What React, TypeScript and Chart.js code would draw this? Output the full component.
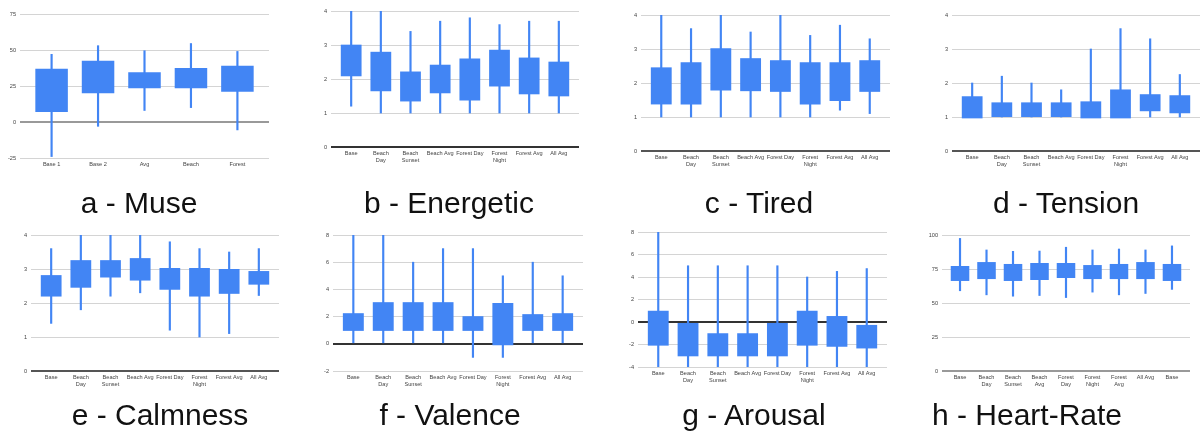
import React, { useEffect, useRef } from "react";
import { Chart, registerables } from "chart.js";
Chart.register(...registerables);

// ---------- data ----------
const sceneLabels = ["Base", "Beach\nDay", "Beach\nSunset", "Beach Avg", "Forest Day", "Forest\nNight", "Forest Avg", "All Avg"];

const museLabels = ["Base 1", "Base 2", "Avg", "Beach", "Forest"];
const museBoxLow = [7, 20, 23.5, 23.5, 21];
const museBoxHigh = [37, 42.5, 34.5, 37.5, 39];
const museMin = [-24, -3, 8, 10, -5.5];
const museMax = [47, 53, 49.5, 54.5, 49];

const energeticBoxLow = [2.08, 1.64, 1.34, 1.58, 1.37, 1.78, 1.55, 1.49];
const energeticBoxHigh = [3.01, 2.8, 2.22, 2.42, 2.6, 2.86, 2.63, 2.51];
const energeticMin = [1.2, 1, 1, 1, 1, 1, 1, 1];
const energeticMax = [4, 4, 3.4, 3.7, 3.8, 3.6, 3.7, 3.7];

const tiredBoxLow = [1.37, 1.37, 1.78, 1.76, 1.74, 1.37, 1.47, 1.74];
const tiredBoxHigh = [2.46, 2.61, 3.02, 2.73, 2.67, 2.61, 2.61, 2.67];
const tiredMin = [1, 1, 1, 1, 1, 1, 1.2, 1.1];
const tiredMax = [4, 3.6, 4, 3.5, 4, 3.4, 3.7, 3.3];

const tensionBoxLow = [0.96, 1, 1, 1, 0.96, 0.96, 1.17, 1.11];
const tensionBoxHigh = [1.61, 1.43, 1.43, 1.43, 1.46, 1.81, 1.67, 1.64];
const tensionMin = [1, 1, 1, 1, 1, 1, 1, 1];
const tensionMax = [2, 2.2, 2, 1.8, 3, 3.6, 3.3, 2.25];

const calmnessBoxLow = [2.19, 2.45, 2.75, 2.66, 2.39, 2.19, 2.27, 2.54];
const calmnessBoxHigh = [2.82, 3.26, 3.26, 3.32, 3.03, 3.03, 3.0, 2.94];
const calmnessMin = [1.4, 1.8, 2.2, 2.3, 1.2, 1, 1.1, 2.22];
const calmnessMax = [3.6, 4, 4, 4, 3.8, 3.6, 3.5, 3.6];

const valenceBoxLow = [0.95, 0.95, 0.95, 0.95, 0.95, -0.1, 0.95, 0.95];
const valenceBoxHigh = [2.25, 3.06, 3.06, 3.06, 2.03, 3, 2.18, 2.25];
const valenceMin = [0, 0, 0, 0, -1, -1, 0, 0];
const valenceMax = [8, 8, 6, 7, 7, 5, 6, 5];

const arousalBoxLow = [-2.1, -3.05, -3.05, -3.05, -3.05, -2.1, -2.2, -2.35];
const arousalBoxHigh = [1, 0, -1, -1, 0, 1, 0.53, -0.26];
const arousalMin = [-4, -4, -4, -4, -4, -4, -4, -4];
const arousalMax = [8, 5, 5, 5, 5, 4, 4.5, 4.75];

const heartLabels = ["Base", "Beach\nDay", "Beach\nSunset", "Beach\nAvg", "Forest\nDay", "Forest\nNight", "Forest\nAvg", "All Avg", "Base"];
const heartBoxLow = [66.2, 67.6, 66.2, 66.9, 68.4, 67.6, 67.6, 67.6, 66.2];
const heartBoxHigh = [77.2, 80.1, 78.7, 79.4, 79.4, 77.9, 78.7, 80.1, 78.7];
const heartMin = [59, 56, 55, 55.5, 54, 58, 56, 57, 60];
const heartMax = [97.5, 89, 88, 88.2, 91, 89, 89.7, 89, 92];

// ---------- panels ----------
type Panel = {
  caption: string;
  labels: string[];
  boxLow: number[];
  boxHigh: number[];
  min: number[];
  max: number[];
  yMin: number;
  yMax: number;
  yStep: number;
  area: { l: number; t: number; r: number; b: number };
  baseColor: string;
  capX: number;
  capY: number;
};

const panels: Panel[] = [
  { caption: "a - Muse", labels: museLabels, boxLow: museBoxLow, boxHigh: museBoxHigh, min: museMin, max: museMax, yMin: -25, yMax: 75, yStep: 25, area: { l: 20, t: 14, r: 269, b: 158 }, baseColor: "#999", capX: 139, capY: 188 },
  { caption: "b - Energetic", labels: sceneLabels, boxLow: energeticBoxLow, boxHigh: energeticBoxHigh, min: energeticMin, max: energeticMax, yMin: 0, yMax: 4, yStep: 1, area: { l: 331, t: 11.3, r: 579, b: 147.3 }, baseColor: "#333", capX: 449, capY: 188 },
  { caption: "c - Tired", labels: sceneLabels, boxLow: tiredBoxLow, boxHigh: tiredBoxHigh, min: tiredMin, max: tiredMax, yMin: 0, yMax: 4, yStep: 1, area: { l: 641, t: 14.7, r: 890, b: 150.7 }, baseColor: "#555", capX: 759, capY: 188 },
  { caption: "d - Tension", labels: sceneLabels, boxLow: tensionBoxLow, boxHigh: tensionBoxHigh, min: tensionMin, max: tensionMax, yMin: 0, yMax: 4, yStep: 1, area: { l: 952, t: 14.7, r: 1200, b: 150.7 }, baseColor: "#555", capX: 1066, capY: 188 },
  { caption: "e - Calmness", labels: sceneLabels, boxLow: calmnessBoxLow, boxHigh: calmnessBoxHigh, min: calmnessMin, max: calmnessMax, yMin: 0, yMax: 4, yStep: 1, area: { l: 31, t: 235, r: 279, b: 371 }, baseColor: "#555", capX: 160, capY: 400 },
  { caption: "f - Valence", labels: sceneLabels, boxLow: valenceBoxLow, boxHigh: valenceBoxHigh, min: valenceMin, max: valenceMax, yMin: -2, yMax: 8, yStep: 2, area: { l: 333, t: 235, r: 583, b: 371 }, baseColor: "#333", capX: 450, capY: 400 },
  { caption: "g - Arousal", labels: sceneLabels, boxLow: arousalBoxLow, boxHigh: arousalBoxHigh, min: arousalMin, max: arousalMax, yMin: -4, yMax: 8, yStep: 2, area: { l: 638, t: 231.7, r: 887, b: 367.3 }, baseColor: "#333", capX: 754, capY: 400 },
  { caption: "h - Heart-Rate", labels: heartLabels, boxLow: heartBoxLow, boxHigh: heartBoxHigh, min: heartMin, max: heartMax, yMin: 0, yMax: 100, yStep: 25, area: { l: 942, t: 235, r: 1190, b: 371 }, baseColor: "#999", capX: 1027, capY: 400 },
];

const BLUE = "#4285F4";
const FONT = "'Liberation Sans', Arial, sans-serif";
const PAD_L = 40;
const PAD_T = 8;
const PAD_B = 30;
const PAD_R = 2;
const EDGE = 0.68;

function BoxPanel({ p }: { p: Panel }) {
  const ref = useRef<HTMLCanvasElement>(null);
  const w = p.area.r - p.area.l + PAD_L + PAD_R;
  const h = p.area.b - p.area.t + PAD_T + PAD_B;

  useEffect(() => {
    if (!ref.current) return;
    const n = p.labels.length;
    const chart = new Chart(ref.current, {
      type: "bar",
      data: {
        datasets: [
          {
            data: p.labels.map((_, i) => ({ x: i, y: [p.boxLow[i], p.boxHigh[i]] })) as any,
            backgroundColor: BLUE,
            grouped: false,
            categoryPercentage: 1,
            barPercentage: 0.7,
            order: 0,
          } as any,
          {
            data: p.labels.map((_, i) => ({ x: i, y: [p.min[i], p.max[i]] })) as any,
            backgroundColor: BLUE,
            grouped: false,
            categoryPercentage: 1,
            barPercentage: 1,
            maxBarThickness: 1.5,
            order: 1,
          } as any,
        ],
      },
      options: {
        responsive: false,
        animation: false,
        layout: { padding: { top: PAD_T, right: PAD_R, left: 0, bottom: 0 } },
        plugins: { legend: { display: false }, tooltip: { enabled: false } },
        scales: {
          x: {
            type: "linear",
            min: -EDGE,
            max: n - 1 + EDGE,
            offset: false,
            grid: { display: false, drawTicks: false, offset: false },
            border: { display: false },
            afterBuildTicks: (s: any) => {
              s.ticks = p.labels.map((_, i) => ({ value: i }));
            },
            afterFit: (s: any) => {
              s.height = PAD_B;
            },
            ticks: {
              autoSkip: false,
              maxRotation: 0,
              minRotation: 0,
              padding: 3,
              color: "#444",
              font: { family: FONT, size: 5.6, lineHeight: 1.2 },
              callback: (_v: any, i: number) => p.labels[i].split("\n"),
            },
          },
          y: {
            min: p.yMin,
            max: p.yMax,
            afterFit: (s: any) => {
              s.width = PAD_L;
            },
            ticks: {
              stepSize: p.yStep,
              padding: 4,
              color: "#444",
              font: { family: FONT, size: 5.6 },
            },
            grid: {
              drawTicks: false,
              color: (ctx: any) => (ctx.tick && ctx.tick.value === 0 ? p.baseColor : "#d4d4d4"),
              lineWidth: (ctx: any) => (ctx.tick && ctx.tick.value === 0 ? 2 : 1),
            },
            border: { display: false },
          },
        },
      } as any,
    });
    return () => chart.destroy();
  }, [p]);

  return (
    <canvas
      ref={ref}
      width={w}
      height={h}
      style={{ position: "absolute", left: p.area.l - PAD_L, top: p.area.t - PAD_T, width: w, height: h }}
    />
  );
}

export default function App() {
  return (
    <div
      style={{
        position: "absolute",
        left: 0,
        top: 0,
        width: 1200,
        height: 439,
        overflow: "hidden",
        background: "#fff",
      }}
    >
      {panels.map((p, i) => (
        <BoxPanel key={"c" + i} p={p} />
      ))}
      {panels.map((p, i) => (
        <div
          key={"t" + i}
          style={{
            position: "absolute",
            left: p.capX - 150,
            top: p.capY,
            width: 300,
            height: 30,
            lineHeight: "30px",
            textAlign: "center",
            fontFamily: FONT,
            fontSize: 30,
            color: "#111",
            whiteSpace: "nowrap",
          }}
        >
          {p.caption}
        </div>
      ))}
    </div>
  );
}
